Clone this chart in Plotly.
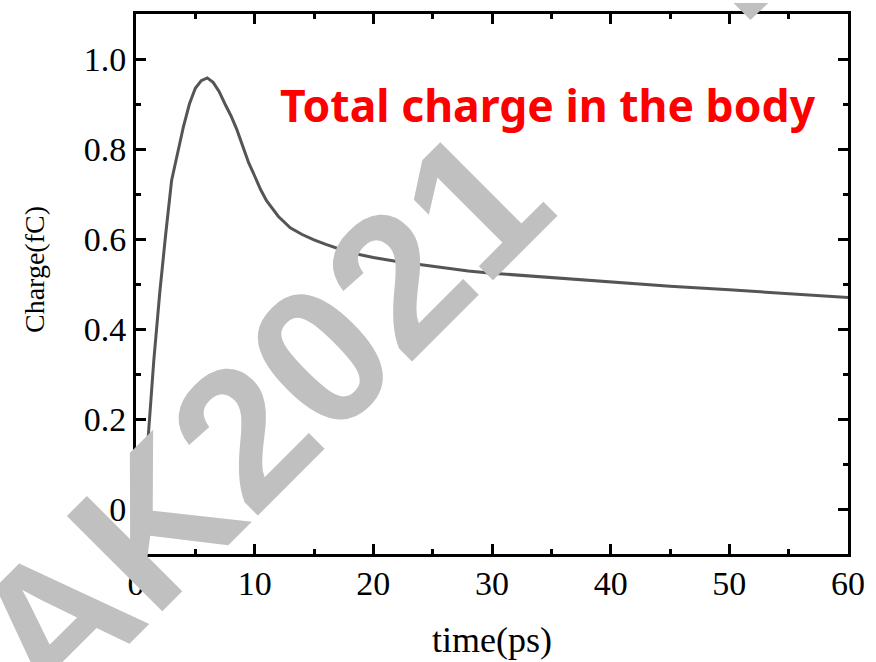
import plotly.graph_objects as go

# Data
time_ps = [0.5, 1.0, 1.5, 2.0, 2.5, 3.0, 3.5, 4.0, 4.5, 5.0, 5.5, 6.0, 6.5, 7.0, 7.5,
           8.0, 8.5, 9.0, 9.5, 10.0, 10.5, 11.0, 12.0, 13.0, 14.0, 15.0, 16.0, 18.0,
           20.0, 22.0, 25.0, 28.0, 30.0, 35.0, 40.0, 45.0, 50.0, 55.0, 60.0]
charge_fc = [0.03, 0.15, 0.33, 0.48, 0.61, 0.73, 0.79, 0.85, 0.90, 0.935, 0.952, 0.958,
             0.948, 0.928, 0.90, 0.874, 0.843, 0.805, 0.769, 0.74, 0.71, 0.685, 0.65,
             0.625, 0.61, 0.598, 0.588, 0.570, 0.559, 0.550, 0.539, 0.529, 0.524,
             0.514, 0.504, 0.495, 0.487, 0.479, 0.470]

x_ticks = [0, 10, 20, 30, 40, 50, 60]
y_ticks = [0, 0.2, 0.4, 0.6, 0.8, 1.0]
y_tick_text = ["0", "0.2", "0.4", "0.6", "0.8", "1.0"]

W, H = 876, 662
L, R, T, B = 136, 851, 11, 554


def px(xp):
    return (xp - L) / (R - L)


def py(yp):
    return (B - yp) / (B - T)


fig = go.Figure()
fig.add_trace(go.Scatter(x=time_ps, y=charge_fc, mode="lines",
                         line=dict(color="#555555", width=3), showlegend=False))

serif = "Liberation Serif, Times New Roman, serif"
axis_common = dict(showline=True, linecolor="black", linewidth=3, mirror="ticks",
                   ticks="inside", ticklen=10, tickwidth=3, tickcolor="black",
                   showgrid=False, zeroline=False,
                   tickfont=dict(family=serif, size=34, color="black"))

fig.update_xaxes(range=[0, 60], tickvals=x_ticks, ticklabelstandoff=-3,
                 minor=dict(dtick=5, tick0=0, ticks="inside", ticklen=5, tickwidth=3,
                            tickcolor="black", showgrid=False),
                 **axis_common)
fig.update_yaxes(range=[-0.1, 1.1], tickvals=y_ticks, ticktext=y_tick_text,
                 minor=dict(dtick=0.1, tick0=0, ticks="inside", ticklen=5, tickwidth=3,
                            tickcolor="black", showgrid=False),
                 **axis_common)

annotations = [
    dict(text="Total charge in the body", x=px(550), y=py(102), xref="paper", yref="paper",
         showarrow=False, xanchor="center", yanchor="middle",
         font=dict(family="Noto Sans, sans-serif", size=44.5, color="#ff0000", weight="bold")),
    dict(text="time(ps)", x=px(493), y=py(640), xref="paper", yref="paper",
         showarrow=False, xanchor="center", yanchor="middle",
         font=dict(family=serif, size=36, color="black")),
    dict(text="Charge(fC)", x=px(34), y=py(268), xref="paper", yref="paper",
         showarrow=False, xanchor="center", yanchor="middle", textangle=-90,
         font=dict(family=serif, size=28, color="black")),
    dict(text="AK2021", x=px(260), y=py(418), xref="paper", yref="paper",
         showarrow=False, xanchor="center", yanchor="middle", textangle=-45,
         font=dict(family="Liberation Sans, Arial, sans-serif", size=196,
                   color="#c0c0c0", weight="bold")),
]

# small corner of a repeated watermark at the top edge
shapes = [dict(type="path", xref="paper", yref="paper",
               path="M {a},{b} L {c},{b} L {d},{e} Z".format(
                   a=px(736), c=px(771), b=py(0), d=px(753), e=py(17)),
               fillcolor="#c0c0c0", line=dict(width=0), layer="above")]

fig.update_layout(width=W, height=H, margin=dict(l=L, r=W - R, t=T, b=H - B),
                  plot_bgcolor="white", paper_bgcolor="white",
                  annotations=annotations, shapes=shapes)

fig.write_html("out.html")
